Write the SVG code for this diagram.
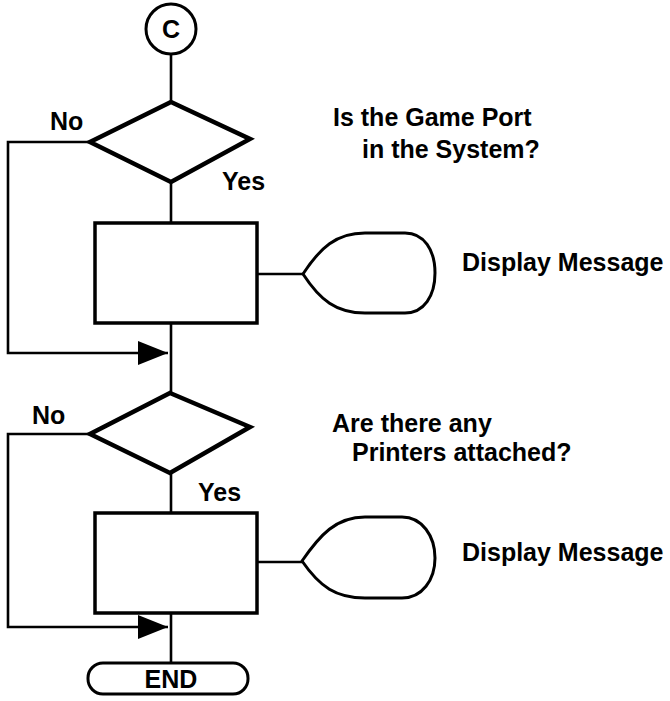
<svg xmlns="http://www.w3.org/2000/svg" width="670" height="701" viewBox="0 0 670 701">
  <style>
    .shape { fill: #fff; stroke: #000; }
    .dec { stroke-width: 4.5; stroke-linejoin: miter; }
    .box { stroke-width: 3.5; }
    .msg { stroke-width: 3; stroke-linejoin: round; }
    .wire { fill: none; stroke: #000; stroke-width: 2.6; }
    text { font-family: "Liberation Sans", Arial, Helvetica, sans-serif; font-weight: bold; font-size: 25px; fill: #000; }
  </style>
  <defs>
    <marker id="arrow" markerUnits="userSpaceOnUse" markerWidth="30" markerHeight="24" refX="30" refY="12" orient="auto">
      <path d="M0,0 L30,12 L0,24 Z" fill="#000"/>
    </marker>
  </defs>

  <!-- connectors -->
  <g id="connectors">
    <line class="wire" x1="171" y1="54" x2="171" y2="103"/>
    <line class="wire" x1="171" y1="181" x2="171" y2="223"/>
    <line class="wire" x1="257" y1="274" x2="303" y2="274"/>
    <line class="wire" x1="171" y1="323" x2="171" y2="394"/>
    <polyline class="wire" points="90,142 8,142 8,353 168,353" marker-end="url(#arrow)"/>
    <line class="wire" x1="171" y1="472" x2="171" y2="513"/>
    <line class="wire" x1="257" y1="562" x2="302" y2="562"/>
    <line class="wire" x1="171" y1="613" x2="171" y2="663"/>
    <polyline class="wire" points="90,434 8,434 8,627 168,627" marker-end="url(#arrow)"/>
  </g>

  <!-- connector C -->
  <g id="start">
    <circle class="shape" cx="171" cy="29" r="25" stroke-width="3"/>
    <text x="171" y="38" text-anchor="middle" font-size="26">C</text>
  </g>

  <!-- decision: game port -->
  <g id="game-port-check">
    <polygon class="shape dec" points="171,102 250,139 171,182 90,142"/>
    <text x="50" y="130">No</text>
    <text x="222" y="190">Yes</text>
    <text x="333" y="126">Is the Game Port</text>
    <text x="362" y="158">in the System?</text>
  </g>

  <g id="game-port-process">
    <rect class="shape box" x="95" y="223" width="162" height="100"/>
  </g>

  <g id="game-port-display">
    <path class="shape msg" d="M303,274 C320,248 336,233 365,233 L405,233 C424,233 435,250 435,273 C435,296 424,313 405,313 L365,313 C336,313 320,300 303,274 Z"/>
    <text x="462" y="271">Display Message</text>
  </g>

  <!-- decision: printers -->
  <g id="printer-check">
    <polygon class="shape dec" points="170,393 250,427 170,473 90,434"/>
    <text x="32" y="424">No</text>
    <text x="198" y="501">Yes</text>
    <text x="332" y="432">Are there any</text>
    <text x="352" y="461">Printers attached?</text>
  </g>

  <g id="printer-process">
    <rect class="shape box" x="95" y="513" width="162" height="100"/>
  </g>

  <g id="printer-display">
    <path class="shape msg" d="M302,561 C320,535 336,517 365,517 L402,517 C422,517 435,536 435,558 C435,580 422,598 402,598 L365,598 C336,598 320,587 302,561 Z"/>
    <text x="462" y="561">Display Message</text>
  </g>

  <!-- terminator -->
  <g id="end">
    <rect class="shape" x="88" y="663" width="160" height="31" rx="15" stroke-width="3"/>
    <text x="171" y="688" text-anchor="middle">END</text>
  </g>
</svg>
